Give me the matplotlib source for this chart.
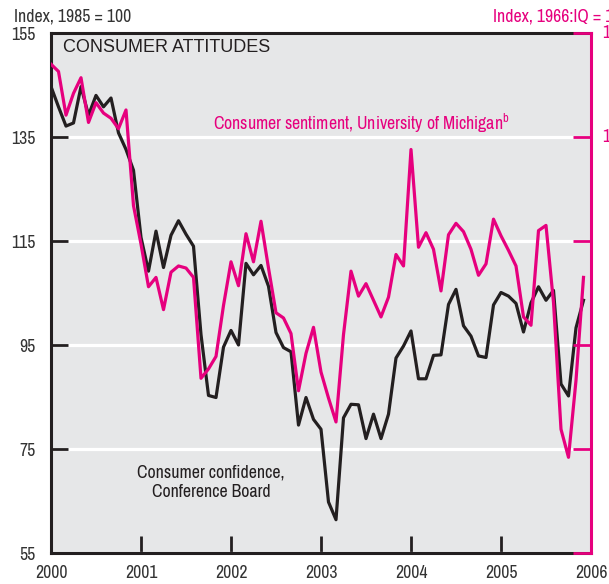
#! /usr/bin/env python3
"""
Consumer attitudes: Conference Board confidence vs. Michigan sentiment, 2000-2005
"""
import matplotlib
matplotlib.use('Agg')
import matplotlib.pyplot as plt
from matplotlib import font_manager

# look for a narrow sans face, the original uses a condensed Helvetica
narrow = None
for f in font_manager.fontManager.ttflist:
    if f.name == 'Liberation Sans Narrow':
        narrow = f.name
        break
if narrow is None:
    for f in font_manager.fontManager.ttflist:
        if 'Narrow' in f.name or 'Condensed' in f.name:
            narrow = f.name
            break
if narrow is not None:
    plt.rcParams['font.family'] = [narrow, 'DejaVu Sans']
    FS = 12.8
else:
    plt.rcParams['font.family'] = ['Liberation Sans', 'DejaVu Sans']
    FS = 11
plt.rcParams['mathtext.fontset'] = 'custom'
plt.rcParams['mathtext.rm'] = plt.rcParams['font.family'][0]
plt.rcParams['mathtext.default'] = 'regular'

MAGENTA = '#e6007e'
INK = '#231f20'
BG = '#e6e7e8'

# monthly, Jan 2000 .. Dec 2005
confidence = [
    144.7, 140.8, 137.1, 137.7, 144.7, 139.2, 143.0, 140.8, 142.5, 135.8, 132.6, 128.6,
    115.7, 109.2, 116.9, 109.9, 116.1, 118.9, 116.3, 114.0, 97.0, 85.3, 84.9, 94.6,
    97.8, 95.0, 110.7, 108.5, 110.3, 106.3, 97.4, 94.5, 93.7, 79.6, 84.9, 80.7,
    78.8, 64.8, 61.4, 81.0, 83.6, 83.5, 77.0, 81.7, 77.0, 81.7, 92.5, 94.8,
    97.7, 88.5, 88.5, 93.0, 93.1, 102.8, 105.7, 98.7, 96.7, 92.9, 92.6, 102.7,
    105.1, 104.4, 103.0, 97.5, 103.1, 106.2, 103.6, 105.5, 87.5, 85.2, 98.3, 103.6,
]
sentiment = [
    112.0, 111.3, 107.1, 109.2, 110.7, 106.4, 108.3, 107.3, 106.8, 105.8, 107.6, 98.4,
    94.7, 90.6, 91.5, 88.4, 92.0, 92.6, 92.4, 91.5, 81.8, 82.7, 83.9, 88.8,
    93.0, 90.7, 95.7, 93.0, 96.9, 92.4, 88.1, 87.6, 86.1, 80.6, 84.2, 86.7,
    82.4, 79.9, 77.6, 86.0, 92.1, 89.7, 90.9, 89.3, 87.7, 89.6, 93.7, 92.6,
    103.8, 94.4, 95.8, 94.2, 90.2, 95.6, 96.7, 95.9, 94.2, 91.7, 92.8, 97.1,
    95.5, 94.1, 92.6, 87.7, 86.9, 96.0, 96.5, 89.1, 76.9, 74.2, 81.6, 91.5,
]
months = [2000 + i / 12 for i in range(len(confidence))]
years = [2000, 2001, 2002, 2003, 2004, 2005, 2006]
left_ticks = [55, 75, 95, 115, 135, 155]
right_ticks = [65, 75, 85, 95, 105, 115]

fig = plt.figure(figsize=(6.09, 5.84), dpi=100)
W, H = 609, 584
ax = fig.add_axes([51 / W, (H - 553) / H, 540 / W, 520 / H])
ax.set_facecolor(BG)
ax.set_xlim(2000, 2006)
ax.set_ylim(55, 155)
ax.set_axisbelow(True)
ax.set_yticks(left_ticks)
ax.set_xticks(years)
ax.yaxis.grid(True, color='white', lw=2.3)
ax.tick_params(axis='y', direction='in', length=12, width=2, color=INK,
               labelsize=FS, pad=11, labelcolor='#333333')
ax.tick_params(axis='x', direction='in', length=12, width=2, color=INK,
               labelsize=FS, pad=9, labelcolor='#333333')
for side in ['left', 'bottom', 'top']:
    ax.spines[side].set_linewidth(2.2)
    ax.spines[side].set_color(INK)
ax.spines['right'].set_visible(False)

ax.plot(months, confidence, color=INK, lw=2.3, zorder=3)

ax2 = ax.twinx()
ax2.set_ylim(65, 115)
ax2.set_yticks(right_ticks)
ax2.tick_params(axis='y', direction='in', length=13, width=2, color=MAGENTA,
                labelright=False)
# right-aligned labels, the picture is cut so only the leading digit shows
for v in right_ticks:
    ax2.text(1.066, v, str(v), transform=ax2.get_yaxis_transform(),
             ha='right', va='center', fontsize=FS, color=MAGENTA, clip_on=False)
for side in ['left', 'bottom', 'top']:
    ax2.spines[side].set_visible(False)
ax2.spines['right'].set_color(MAGENTA)
ax2.spines['right'].set_linewidth(2.2)
ax2.plot(months, sentiment, color=MAGENTA, lw=2.3, zorder=4)

ax.text(12 / 540, 1 - 6 / 520, 'CONSUMER ATTITUDES', transform=ax.transAxes,
        ha='left', va='top', fontsize=13, family=['Liberation Sans', 'DejaVu Sans'],
        color=INK)
ax.text(2001.8, 137.7, 'Consumer sentiment, University of Michigan$^{b}$',
        ha='left', va='center', fontsize=FS, color=MAGENTA)
ax.text(2001.78, 68.6, 'Consumer confidence,\nConference Board', ha='center',
        va='center', fontsize=FS, color=INK, linespacing=1.3)

fig.text(14 / W, 1 - 17 / H, 'Index, 1985 = 100', ha='left', va='center',
         fontsize=FS, color='#333333')
fig.text(493 / W, 1 - 17 / H, 'Index, 1966:IQ = 100', ha='left', va='center',
         fontsize=FS, color=MAGENTA)

fig.savefig('out.png', dpi=100, facecolor='white')
